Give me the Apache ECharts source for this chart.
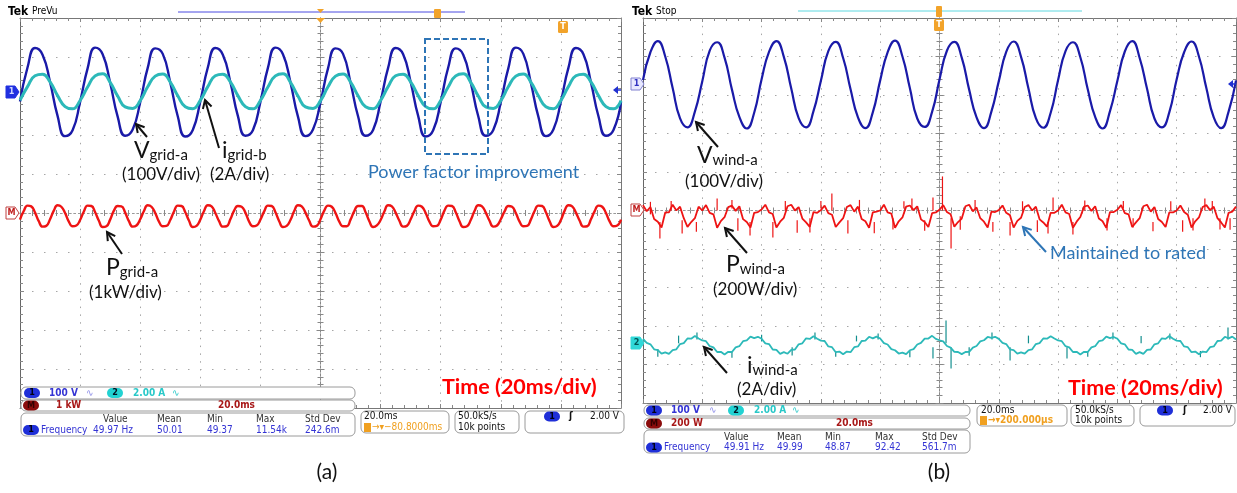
<!DOCTYPE html>
<html>
<head>
<meta charset="utf-8">
<script src="https://cdn.jsdelivr.net/npm/echarts@6/dist/echarts.min.js"></script>
<style>
  html, body { margin: 0; padding: 0; background: #fff; }
  #chart { width: 1237px; height: 493px; }
</style>
</head>
<body>
<div id="chart"></div>
<script>
// time base in ms relative to the trigger, 20 ms/div, 10 div
const tStart = -100;
const stepSlow = 2.5;   // 50 Hz traces
const stepFast = 1.25;  // 100 Hz and noisy traces

// (a) grid side
const vGridA = [ // V
  -24, 63, 113, 96, 26, -61, -113, -98,
  -25, 61, 114, 97, 24, -63, -112, -96,
  -26, 62, 112, 98, 25, -62, -114, -97,
  -24, 63, 113, 96, 26, -61, -112, -98,
  -25, 62, 114, 97, 25, -63, -113, -96,
  -26, 61, 112, 98, 24, -62, -112, -97,
  -24, 62, 113, 97, 26, -61, -114, -98,
  -25, 63, 112, 96, 25, -62, -112, -97,
  -26, 61, 114, 98, 24, -63, -113, -96,
  -24, 62, 113, 97, 25, -62, -112, -97,
  -25
];
const iGridB = [ // A
  -0.46, 0.24, 0.80, 0.88, 0.48, -0.22, -0.78, -0.90,
  -0.47, 0.22, 0.79, 0.90, 0.46, -0.24, -0.80, -0.88,
  -0.48, 0.23, 0.78, 0.89, 0.47, -0.23, -0.79, -0.89,
  -0.46, 0.24, 0.80, 0.88, 0.48, -0.22, -0.78, -0.90,
  -0.47, 0.22, 0.79, 0.90, 0.46, -0.24, -0.80, -0.88,
  -0.48, 0.23, 0.78, 0.89, 0.47, -0.23, -0.79, -0.89,
  -0.46, 0.24, 0.80, 0.88, 0.48, -0.22, -0.78, -0.90,
  -0.47, 0.22, 0.79, 0.90, 0.46, -0.24, -0.80, -0.88,
  -0.48, 0.23, 0.78, 0.89, 0.47, -0.23, -0.79, -0.89,
  -0.46, 0.24, 0.80, 0.88, 0.48, -0.22, -0.78, -0.90,
  -0.47
];
const pGridA = [ // kW
  -0.17, 0.05, 0.19, 0.17, 0.01, -0.21, -0.35, -0.33,
  -0.16, 0.06, 0.20, 0.16, 0.00, -0.22, -0.34, -0.32,
  -0.18, 0.04, 0.19, 0.18, 0.02, -0.20, -0.36, -0.34,
  -0.17, 0.06, 0.18, 0.17, 0.01, -0.21, -0.35, -0.32,
  -0.16, 0.05, 0.20, 0.16, 0.00, -0.22, -0.34, -0.33,
  -0.18, 0.04, 0.19, 0.18, 0.02, -0.20, -0.36, -0.33,
  -0.17, 0.05, 0.20, 0.17, 0.00, -0.21, -0.35, -0.34,
  -0.16, 0.06, 0.18, 0.16, 0.01, -0.22, -0.34, -0.32,
  -0.17, 0.04, 0.19, 0.18, 0.02, -0.21, -0.36, -0.33,
  -0.18, 0.05, 0.20, 0.17, 0.01, -0.20, -0.35, -0.33,
  -0.16, 0.06, 0.19, 0.16, 0.00, -0.22, -0.34, -0.34,
  -0.17, 0.05, 0.18, 0.18, 0.02, -0.21, -0.36, -0.32,
  -0.18, 0.04, 0.20, 0.17, 0.01, -0.20, -0.35, -0.33,
  -0.16, 0.05, 0.19, 0.16, 0.00, -0.22, -0.34, -0.33,
  -0.17, 0.06, 0.19, 0.18, 0.02, -0.21, -0.36, -0.34,
  -0.18, 0.05, 0.20, 0.17, 0.01, -0.20, -0.35, -0.32,
  -0.16, 0.04, 0.18, 0.16, 0.00, -0.22, -0.34, -0.33,
  -0.17, 0.05, 0.19, 0.18, 0.02, -0.21, -0.36, -0.33,
  -0.18, 0.06, 0.20, 0.17, 0.01, -0.20, -0.35, -0.34,
  -0.16, 0.05, 0.19, 0.16, 0.00, -0.22, -0.34, -0.32,
  -0.17
];

// (b) wind side
const vWindA = [ // V
  12, 84, 113, 73, -9, -88, -111, -70,
  9, 88, 110, 70, -13, -84, -114, -73,
  14, 85, 113, 72, -10, -87, -111, -69,
  10, 87, 111, 69, -12, -85, -113, -72,
  11, 84, 114, 73, -9, -88, -110, -71,
  13, 88, 111, 70, -13, -85, -113, -70,
  9, 85, 112, 72, -10, -87, -112, -73,
  12, 87, 110, 71, -12, -84, -114, -69,
  10, 86, 113, 69, -11, -88, -111, -72,
  14, 84, 112, 73, -9, -85, -113, -70,
  11
];
const pWindA = [ // W
  28, -4, 18, -44, -58, -88, -10, -10,
  30, 0, 20, -40, -85, -60, -40, 20,
  0, 28, -12, -20, -90, -55, -35, 18,
  25, -2, 22, -45, -60, -88, -12, -8,
  5, 30, -10, -18, -88, -58, -38, 22,
  30, 0, 18, -42, -62, -85, -8, -12,
  2, 25, -14, -22, -86, -62, -40, 18,
  28, -6, 20, -44, -56, -90, -10, -6,
  0, 30, -10, -16, -90, -56, -36, 20,
  26, 2, 22, -46, -60, -86, -14, -10,
  4, 28, -8, -20, -84, -60, -42, 22,
  30, -4, 16, -40, -58, -88, -6, -8,
  2, 26, -12, -24, -88, -54, -38, 18,
  28, 0, 20, -46, -62, -84, -12, -12,
  0, 30, -10, -18, -90, -58, -34, 20,
  26, -2, 22, -42, -56, -90, -8, -8,
  4, 28, -14, -20, -86, -62, -40, 22,
  30, -6, 18, -44, -60, -86, -10, -10,
  0, 26, -8, -22, -88, -56, -36, 18,
  28, 2, 20, -40, -62, -88, -12, -6,
  20
];
const iWindA = [ // A
  0.33, 0.12, 0.05, -0.21, -0.25, -0.44, -0.37, -0.45, -0.25, -0.21, 0.06, 0.11, 0.35, 0.34, 0.48, 0.35,
  0.25, 0.21, -0.05, -0.11, -0.35, -0.34, -0.48, -0.34, -0.35, -0.11, -0.05, 0.21, 0.25, 0.45, 0.37, 0.44,
  0.34, 0.10, 0.06, -0.22, -0.24, -0.45, -0.36, -0.44, -0.24, -0.22, 0.05, 0.10, 0.36, 0.33, 0.47, 0.34,
  0.24, 0.22, -0.06, -0.10, -0.36, -0.33, -0.47, -0.33, -0.36, -0.10, -0.06, 0.22, 0.24, 0.44, 0.36, 0.45,
  0.35, 0.11, 0.04, -0.20, -0.26, -0.43, -0.38, -0.46, -0.26, -0.20, 0.04, 0.12, 0.34, 0.35, 0.49, 0.33,
  0.26, 0.20, -0.04, -0.12, -0.34, -0.35, -0.46, -0.35, -0.34, -0.12, -0.04, 0.20, 0.26, 0.43, 0.38, 0.44,
  0.33, 0.12, 0.06, -0.21, -0.25, -0.44, -0.37, -0.44, -0.25, -0.21, 0.06, 0.11, 0.35, 0.34, 0.47, 0.35,
  0.25, 0.21, -0.05, -0.11, -0.35, -0.34, -0.48, -0.34, -0.35, -0.11, -0.05, 0.21, 0.25, 0.45, 0.37, 0.43,
  0.34, 0.10, 0.05, -0.22, -0.24, -0.45, -0.36, -0.45, -0.24, -0.22, 0.05, 0.10, 0.36, 0.33, 0.48, 0.34,
  0.24, 0.22, -0.06, -0.10, -0.36, -0.33, -0.47, -0.33, -0.36, -0.10, -0.06, 0.22, 0.24, 0.44, 0.36, 0.45,
  0.30
];
// glitches: [ms, from, to]
const pWindSpikes = [
  [-97.5, -20, 45], [-94.3, -60, -145], [-90.5, 0, 50], [-86.8, -50, -120], [-82.0, -60, -110],
  [-75.0, 0, 62], [-70.0, 10, 55], [-68.0, -40, -105], [-63.9, -60, -130], [-56.2, -60, -140],
  [-52.0, 0, 50], [-48.0, -50, -115], [-43.7, -40, -114], [-40.0, 10, 50], [-36.3, 0, 88],
  [-30.9, -50, -120], [-27.0, 0, 55], [-22.0, -60, -118], [-15.7, -40, -99], [-12.0, 10, 48],
  [-9.3, 0, 62], [-5.0, -50, -105], [-2.2, 0, 68], [1.0, 0, 177], [3.9, -40, -197],
  [7.0, -30, -100], [12.0, 10, 55], [18.0, -60, -110], [23.8, -60, -130], [28.0, 0, 48],
  [33.0, -50, -112], [36.6, -60, -120], [38.3, 0, 68], [45.0, -60, -125], [49.0, 0, 52],
  [56.5, -40, -104], [62.0, 10, 50], [65.3, -40, -88], [72.0, -60, -108], [78.0, 0, 48],
  [82.0, -50, -110], [85.5, -40, -104], [89.5, 0, 62], [92.0, 10, 50], [94.6, -40, -99],
  [98.0, -40, -100]
];
const iWindSpikes = [
  [-95.0, -0.2, -0.6], [-88.0, 0.1, 0.5], [-81.8, 0.3, 0.66], [-70.0, -0.3, -0.65],
  [-60.0, 0.2, 0.55], [-49.7, -0.1, -0.53], [-42.0, 0.3, 0.66], [-35.0, -0.3, -0.6],
  [-28.0, 0.2, 0.5], [-20.7, 0.3, 0.61], [-10.0, -0.3, -0.62], [-2.2, -0.1, -0.69],
  [2.2, 0.1, 1.29], [3.9, -0.1, -1.21], [10.0, -0.1, -0.55], [17.7, 0.3, 0.66],
  [23.8, -0.1, -0.79], [30.0, 0.1, 0.5], [43.0, -0.1, -0.69], [50.0, -0.3, -0.6],
  [58.5, 0.3, 0.66], [68.0, 0.1, 0.48], [77.7, 0.3, 0.61], [88.0, -0.3, -0.62],
  [97.3, 0.3, 0.92]
];

// channel settings: position (div) and scale (unit/div)
const chA = { v: [3.1, 100], i: [3.12, 2], p: [0, 1] };
const chB = { v: [3.27, 100], p: [0, 200], i: [-3.5, 2] };

const BLUE = '#1a1aa8', TEAL = '#2cb9b9', RED = '#ee1414';
const NOTE = '#2e75b6';

function trace(values, step, ch) {
  return values.map((v, i) => [tStart + i * step, ch[0] + v / ch[1]]);
}
function glitches(list, ch) {
  return list.map(s => [s[0], ch[0] + s[1] / ch[1], ch[0] + s[2] / ch[1]]);
}

// screen axes: edges + centre cross with 1/5 div ticks
function xAxes(g) {
  const tick = { show: true, inside: true, length: 4, lineStyle: { color: '#888' } };
  const minor = { show: true, splitNumber: 5, length: 3, lineStyle: { color: '#888' } };
  const base = { gridIndex: g, type: 'value', min: -100, max: 100, interval: 20,
    axisLabel: { show: false }, splitLine: { show: false }, axisTick: tick, minorTick: minor };
  return [
    Object.assign({}, base, { position: 'bottom', axisLine: { onZero: false, lineStyle: { color: '#777' } },
      splitLine: { show: true, lineStyle: { color: '#a6a6a6', width: 1, type: [1.5, 6.3] } } }),
    Object.assign({}, base, { position: 'top', axisLine: { onZero: false, lineStyle: { color: '#777' } } }),
    Object.assign({}, base, { axisLine: { onZero: true, lineStyle: { color: '#999', type: [1.5, 3] } } }),
    Object.assign({}, base, { axisLine: { onZero: true, lineStyle: { color: '#999', type: [1.5, 3] } },
      axisTick: Object.assign({}, tick, { inside: false }) })
  ];
}
function yAxes(g) {
  const tick = { show: true, inside: true, length: 4, lineStyle: { color: '#888' } };
  const minor = { show: true, splitNumber: 5, length: 3, lineStyle: { color: '#888' } };
  const base = { gridIndex: g, type: 'value', min: -5, max: 5, interval: 1,
    axisLabel: { show: false }, splitLine: { show: false }, axisTick: tick, minorTick: minor };
  return [
    Object.assign({}, base, { position: 'left', axisLine: { onZero: false, lineStyle: { color: '#666' } },
      splitLine: { show: true, lineStyle: { color: '#a6a6a6', width: 1, type: [1.5, 10.5] } } }),
    Object.assign({}, base, { position: 'right', axisLine: { onZero: false, lineStyle: { color: '#777' } } }),
    Object.assign({}, base, { axisLine: { onZero: true, lineStyle: { color: '#888', type: [2, 2] } } }),
    Object.assign({}, base, { axisLine: { onZero: true, lineStyle: { color: '#888', type: [2, 2] } },
      axisTick: Object.assign({}, tick, { inside: false }) })
  ];
}

function lineSeries(name, axis, data, color, width, smooth) {
  return { name, type: 'line', xAxisIndex: axis, yAxisIndex: axis, data, smooth,
    showSymbol: false, symbol: 'none', silent: true, z: 3,
    lineStyle: { color, width } };
}
function spikeSeries(axis, data, color) {
  return { type: 'custom', xAxisIndex: axis, yAxisIndex: axis, data, silent: true, z: 3,
    renderItem: (params, api) => {
      const a = api.coord([api.value(0), api.value(1)]);
      const b = api.coord([api.value(0), api.value(2)]);
      return { type: 'line', shape: { x1: a[0], y1: a[1], x2: b[0], y2: b[1] },
        style: { stroke: color, lineWidth: 1.2 } };
    } };
}

// ---------- graphic helpers ----------
const SANS = 'Lato, "Open Sans", sans-serif';
const SCOPE = '"DejaVu Sans Condensed", "DejaVu Sans", sans-serif';
function txt(x, y, text, font, fill, align) {
  return { type: 'text', x, y, z: 20, silent: true,
    style: { text, font, fill, align: align || 'left', verticalAlign: 'middle' } };
}
function subLabel(x, y, main, sub) {
  return { type: 'text', x, y, z: 20, silent: true,
    style: { text: '{m|' + main + '}{s|' + sub + '}', verticalAlign: 'middle',
      rich: { m: { fontSize: 23, fontFamily: SANS, fill: '#111', verticalAlign: 'bottom' },
              s: { fontSize: 15, fontFamily: SANS, fill: '#111', verticalAlign: 'bottom' } } } };
}
function arrow(x1, y1, x2, y2, color) {
  const a = Math.atan2(y2 - y1, x2 - x1), L = 8, W = 4.5;
  const bx = x2 - L * Math.cos(a), by = y2 - L * Math.sin(a);
  const px = -Math.sin(a) * W, py = Math.cos(a) * W;
  return [
    { type: 'line', z: 20, silent: true, shape: { x1, y1, x2, y2 }, style: { stroke: color, lineWidth: 2 } },
    { type: 'polyline', z: 20, silent: true, shape: { points: [[bx + px, by + py], [x2, y2], [bx - px, by - py]] },
      style: { stroke: color, lineWidth: 2, fill: null } }
  ];
}
function box(x, y, w, h) {
  return { type: 'rect', z: 15, silent: true, shape: { x, y, width: w, height: h, r: 5 },
    style: { fill: '#fff', stroke: '#9a9a9a', lineWidth: 1 } };
}
function pill(cx, cy, label, fill, color) {
  return [
    { type: 'rect', z: 16, silent: true, shape: { x: cx - 8, y: cy - 5, width: 16, height: 10, r: 5 }, style: { fill } },
    txt(cx, cy, label, 'bold 9px ' + SCOPE, color, 'center')
  ].map(e => Object.assign(e, { z: 16 }));
}
function marker(x, y, label, fill, stroke, color) {
  return [
    { type: 'polygon', z: 16, silent: true,
      shape: { points: [[x, y - 6], [x + 9, y - 6], [x + 13, y], [x + 9, y + 6], [x, y + 6]] },
      style: { fill, stroke, lineWidth: 1 } },
    Object.assign(txt(x + 5.5, y, label, 'bold 9px ' + SCOPE, color, 'center'), { z: 17 })
  ];
}
function leftArrow(x, y) {
  return [
    { type: 'polygon', z: 16, silent: true, shape: { points: [[x - 3, y], [x + 2, y - 4], [x + 2, y + 4]] }, style: { fill: '#2030d0' } },
    { type: 'line', z: 16, silent: true, shape: { x1: x, y1: y, x2: x + 5, y2: y }, style: { stroke: '#2030d0', lineWidth: 1.5 } }
  ];
}
function trigT(cx, cy) {
  return [
    { type: 'rect', z: 16, silent: true, shape: { x: cx - 5, y: cy - 6, width: 10, height: 12, r: 1.5 }, style: { fill: '#f2a32a' } },
    Object.assign(txt(cx, cy, 'T', 'bold 9px ' + SCOPE, '#fff', 'center'), { z: 17 })
  ];
}

const S = '10px ' + SCOPE;
const SB = 'bold 10px ' + SCOPE;
const SBLUE = '#3434d4', STEAL = '#28c8c8', SRED = '#a81818', SORANGE = '#f0a020';

const gfx = [].concat(
  // ---------------- panel (a) ----------------
  txt(8, 12, 'Tek', 'bold 12px ' + SCOPE, '#000'),
  txt(32, 11, 'PreVu', '10px ' + SCOPE, '#000'),
  [{ type: 'line', z: 16, silent: true, shape: { x1: 178, y1: 12, x2: 465, y2: 12 }, style: { stroke: '#4a4ae0', lineWidth: 1 } }],
  [{ type: 'polygon', z: 16, silent: true, shape: { points: [[317, 9], [324, 9], [320.5, 13]] }, style: { fill: '#f2a32a' } }],
  [{ type: 'polygon', z: 16, silent: true, shape: { points: [[316, 18], [325, 18], [320.5, 23]] }, style: { fill: '#f2a32a' } }],
  [{ type: 'rect', z: 16, silent: true, shape: { x: 434, y: 9, width: 7, height: 9, r: 1 }, style: { fill: '#f2a32a' } }],
  trigT(563, 27),
  marker(6, 92, '1', '#2030e0', '#2030e0', '#cfd8ff'),
  marker(6, 213, 'M', '#fff', '#c04040', '#c02020'),
  leftArrow(616, 90),
  [{ type: 'rect', z: 19, silent: true, shape: { x: 425, y: 39, width: 63, height: 115 },
     style: { fill: null, stroke: NOTE, lineWidth: 2, lineDash: [6, 3] } }],
  subLabel(134, 151, 'V', 'grid-a'),
  txt(122, 175, '(100V/div)', '17px ' + SANS, '#111'),
  subLabel(222, 151, 'i', 'grid-b'),
  txt(210, 175, '(2A/div)', '17px ' + SANS, '#111'),
  subLabel(106, 268, 'P', 'grid-a'),
  txt(89, 293, '(1kW/div)', '17px ' + SANS, '#111'),
  txt(368, 172, 'Power factor improvement', '18px ' + SANS, NOTE),
  arrow(147, 137, 136, 124, '#111'),
  arrow(219, 148, 205, 100, '#111'),
  arrow(122, 254, 107, 232, '#111'),
  txt(442, 387, 'Time (20ms/div)', 'bold 21.5px ' + SANS, '#ff0000'),
  // status area (a)
  box(21, 387, 334, 12),
  pill(32, 393, '1', '#1f2fd8', '#001'),
  txt(49, 393, '100 V', SB, SBLUE), txt(86, 393, '∿', S, '#8a8ae8'),
  pill(115, 393, '2', '#22d2d2', '#012'),
  txt(133, 393, '2.00 A', SB, STEAL), txt(172, 393, '∿', S, STEAL),
  box(21, 400, 334, 11),
  pill(31, 405.5, 'M', '#8b0c0c', '#300'),
  txt(56, 405.5, '1 kW', SB, SRED), txt(218, 405.5, '20.0ms', SB, SRED),
  box(21, 413, 334, 23),
  txt(103, 419, 'Value', S, '#333'), txt(157, 419, 'Mean', S, '#333'), txt(207, 419, 'Min', S, '#333'),
  txt(256, 419, 'Max', S, '#333'), txt(305, 419, 'Std Dev', S, '#333'),
  pill(31, 430, '1', '#1f2fd8', '#001'),
  txt(41, 430, 'Frequency', S, SBLUE), txt(93, 430, '49.97 Hz', S, SBLUE), txt(157, 430, '50.01', S, SBLUE),
  txt(207, 430, '49.37', S, SBLUE), txt(256, 430, '11.54k', S, SBLUE), txt(305, 430, '242.6m', S, SBLUE),
  box(361, 411, 88, 22),
  txt(364, 416.5, '20.0ms', S, '#111'),
  [{ type: 'rect', z: 16, silent: true, shape: { x: 364, y: 423, width: 7, height: 9 }, style: { fill: SORANGE } }],
  txt(372, 427.5, '→▾−80.8000ms', S, SORANGE),
  box(455, 411, 64, 22),
  txt(458, 416.5, '50.0kS/s', S, '#111'), txt(458, 427.5, '10k points', S, '#111'),
  box(525, 411, 99, 22),
  pill(552, 416.5, '1', '#1f2fd8', '#001'),
  txt(569, 416.5, 'ʃ', SB, '#111'), txt(619, 416.5, '2.00 V', S, '#111', 'right'),
  txt(327, 472, '(a)', '21px ' + SANS, '#111', 'center'),

  // ---------------- panel (b) ----------------
  txt(632, 12, 'Tek', 'bold 12px ' + SCOPE, '#000'),
  txt(656, 11, 'Stop', '10px ' + SCOPE, '#000'),
  [{ type: 'line', z: 16, silent: true, shape: { x1: 798, y1: 11, x2: 1082, y2: 11 }, style: { stroke: '#5fd8e0', lineWidth: 1 } }],
  [{ type: 'rect', z: 16, silent: true, shape: { x: 936, y: 6, width: 6, height: 11, r: 1 }, style: { fill: '#f2a32a' } }],
  trigT(939, 25),
  marker(631, 84, '1', '#e8e8ff', '#8080d0', '#3030c0'),
  marker(631, 210, 'M', '#fff', '#c04040', '#c02020'),
  marker(631, 343, '2', '#30d8d8', '#30d8d8', '#055'),
  leftArrow(1231, 84),
  subLabel(697, 156, 'V', 'wind-a'),
  txt(685, 182, '(100V/div)', '17px ' + SANS, '#111'),
  subLabel(726, 265, 'P', 'wind-a'),
  txt(713, 290, '(200W/div)', '17px ' + SANS, '#111'),
  txt(1050, 253, 'Maintained to rated', '18px ' + SANS, NOTE),
  subLabel(747, 366, 'i', 'wind-a'),
  txt(737, 390, '(2A/div)', '17px ' + SANS, '#111'),
  arrow(718, 147, 696, 122, '#111'),
  arrow(747, 253, 725, 228, '#111'),
  arrow(1046, 252, 1023, 227, NOTE),
  arrow(727, 373, 704, 347, '#111'),
  txt(1068, 388, 'Time (20ms/div)', 'bold 21.5px ' + SANS, '#ff0000'),
  // status area (b)
  box(644, 405, 326, 11),
  pill(654, 410.5, '1', '#1f2fd8', '#001'),
  txt(671, 410.5, '100 V', SB, SBLUE), txt(709, 410.5, '∿', S, '#8a8ae8'),
  pill(736, 410.5, '2', '#22d2d2', '#012'),
  txt(754, 410.5, '2.00 A', SB, STEAL), txt(792, 410.5, '∿', S, STEAL),
  box(644, 418, 326, 11),
  pill(654, 423.5, 'M', '#8b0c0c', '#300'),
  txt(671, 423.5, '200 W', SB, SRED), txt(836, 423.5, '20.0ms', SB, SRED),
  box(644, 430, 326, 23),
  txt(724, 437, 'Value', S, '#333'), txt(777, 437, 'Mean', S, '#333'), txt(825, 437, 'Min', S, '#333'),
  txt(875, 437, 'Max', S, '#333'), txt(922, 437, 'Std Dev', S, '#333'),
  pill(654, 447.5, '1', '#1f2fd8', '#001'),
  txt(664, 447.5, 'Frequency', S, SBLUE), txt(724, 447.5, '49.91 Hz', S, SBLUE), txt(777, 447.5, '49.99', S, SBLUE),
  txt(825, 447.5, '48.87', S, SBLUE), txt(875, 447.5, '92.42', S, SBLUE), txt(922, 447.5, '561.7m', S, SBLUE),
  box(977, 405, 90, 21),
  txt(981, 410.5, '20.0ms', S, '#111'),
  [{ type: 'rect', z: 16, silent: true, shape: { x: 980, y: 416, width: 7, height: 9 }, style: { fill: SORANGE } }],
  txt(988, 420.5, '→▾200.000µs', SB, SORANGE),
  box(1071, 405, 63, 21),
  txt(1075, 410.5, '50.0kS/s', S, '#111'), txt(1075, 420.5, '10k points', S, '#111'),
  box(1140, 405, 95, 21),
  pill(1165, 410.5, '1', '#1f2fd8', '#001'),
  txt(1183, 410.5, 'ʃ', SB, '#111'), txt(1232, 410.5, '2.00 V', S, '#111', 'right'),
  txt(939, 472, '(b)', '21px ' + SANS, '#111', 'center')
);

const chart = echarts.init(document.getElementById('chart'));
chart.setOption({
  animation: false,
  backgroundColor: '#fff',
  grid: [
    { left: 20, top: 18, width: 601, height: 390 },
    { left: 643, top: 18, width: 593, height: 385 }
  ],
  xAxis: xAxes(0).concat(xAxes(1)),
  yAxis: yAxes(0).concat(yAxes(1)),
  series: [
    lineSeries('Vgrid-a', 0, trace(vGridA, stepSlow, chA.v), BLUE, 2.4, true),
    lineSeries('igrid-b', 0, trace(iGridB, stepSlow, chA.i), TEAL, 3, true),
    lineSeries('Pgrid-a', 0, trace(pGridA, stepFast, chA.p), RED, 2.4, true),
    lineSeries('Vwind-a', 4, trace(vWindA, stepSlow, chB.v), BLUE, 2.2, true),
    lineSeries('Pwind-a', 4, trace(pWindA, stepFast, chB.p), RED, 1.8, false),
    spikeSeries(4, glitches(pWindSpikes, chB.p), RED),
    lineSeries('iwind-a', 4, trace(iWindA, stepFast, chB.i), TEAL, 1.8, false),
    spikeSeries(4, glitches(iWindSpikes, chB.i), '#138f8f')
  ],
  graphic: { elements: gfx }
});
</script>
</body>
</html>
